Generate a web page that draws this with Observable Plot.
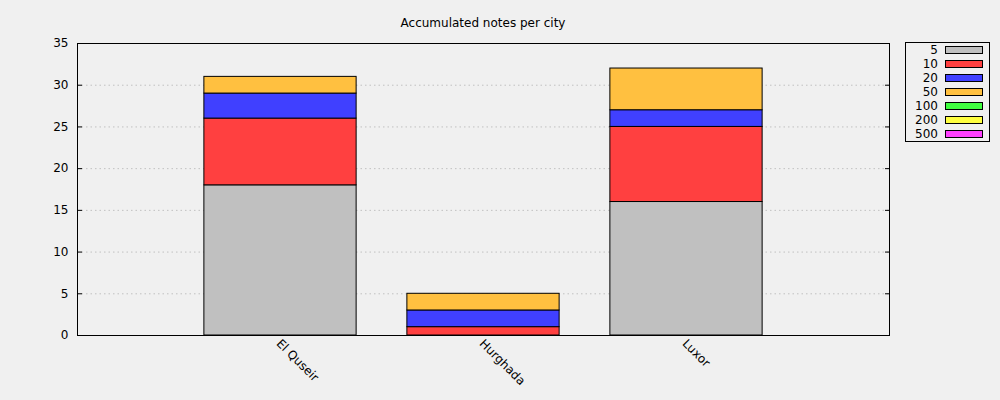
<!DOCTYPE html>
<html><head><meta charset="utf-8">
<script src="https://cdn.jsdelivr.net/npm/d3@7"></script>
<script src="https://cdn.jsdelivr.net/npm/@observablehq/plot@0.6"></script>
<style>
body{margin:0;background:#f0f0f0;font-family:"DejaVu Sans",sans-serif;}
#wrap{position:relative;width:1000px;height:400px;overflow:hidden;}
#title{position:absolute;left:77px;width:812px;top:16px;text-align:center;font-size:12px;line-height:14px;color:#000;}
#legend{position:absolute;left:905px;top:42px;width:85px;height:100px;border:1px solid #000;box-sizing:border-box;}
.row{display:flex;align-items:center;height:14px;}
.lab{width:32px;text-align:right;font-size:12px;line-height:14px;}
.sw{margin-left:7px;width:38px;height:8px;border:1px solid #000;box-sizing:border-box;}
</style></head>
<body><div id="wrap"><div id="title">Accumulated notes per city</div><div id="legend"></div></div>
<script>
const cities = ["El Quseir", "Hurghada", "Luxor"];
const denominations = ["5", "10", "20", "50", "100", "200", "500"];
const colors = ["#c0c0c0", "#ff4040", "#4040ff", "#ffc040", "#40ff40", "#ffff40", "#ff40ff"];
const notes5 = [18, 0, 16];
const notes10 = [8, 1, 9];
const notes20 = [3, 2, 2];
const notes50 = [2, 2, 5];
const notes100 = [0, 0, 0];
const notes200 = [0, 0, 0];
const notes500 = [0, 0, 0];
const yTicks = [0, 5, 10, 15, 20, 25, 30, 35];

const series = [notes5, notes10, notes20, notes50, notes100, notes200, notes500];
const rects = [];
cities.forEach((c, i) => {
  let acc = 0;
  series.forEach((s, k) => {
    const v = s[i];
    if (v > 0) rects.push({pos: i + 1, y1: acc, y2: acc + v, denom: denominations[k]});
    acc += v;
  });
});
const half = 0.375;

const chart = Plot.plot({
  width: 1000, height: 400,
  marginLeft: 77, marginRight: 111, marginTop: 43, marginBottom: 65,
  style: {background: "transparent", fontFamily: "DejaVu Sans", fontSize: "12px", color: "#000"},
  x: {domain: [0, 4]},
  y: {domain: [0, 35]},
  color: {domain: denominations, range: colors},
  marks: [
    Plot.gridY(yTicks.filter(t => t > 0 && t < 35), {stroke: "#c0c0c0", strokeOpacity: 1, strokeWidth: 1, strokeDasharray: "1.5,3"}),
    Plot.rect(rects, {x1: d => d.pos - half, x2: d => d.pos + half, y1: "y1", y2: "y2", fill: "denom", stroke: "#000", strokeWidth: 1}),
    Plot.frame({stroke: "#000", strokeWidth: 1}),
    Plot.axisY(yTicks, {anchor: "left", tickSize: -5, tickPadding: 14, label: null, stroke: "#000"}),
    Plot.axisY(yTicks, {anchor: "right", tickSize: -5, tickFormat: () => "", label: null}),
    Plot.axisX([1, 2, 3], {tickSize: 0, tickPadding: 6, dx: -2, tickRotate: 45, textAnchor: "start", tickFormat: d => cities[d - 1], label: null})
  ]
});
document.getElementById("wrap").prepend(chart);
chart.style.position = "absolute"; chart.style.left = "0"; chart.style.top = "0";

const legend = document.getElementById("legend");
denominations.forEach((d, k) => {
  const row = document.createElement("div"); row.className = "row";
  const lab = document.createElement("div"); lab.className = "lab"; lab.textContent = d;
  const sw = document.createElement("div"); sw.className = "sw"; sw.style.background = colors[k];
  row.append(lab, sw); legend.append(row);
});
</script></body></html>
